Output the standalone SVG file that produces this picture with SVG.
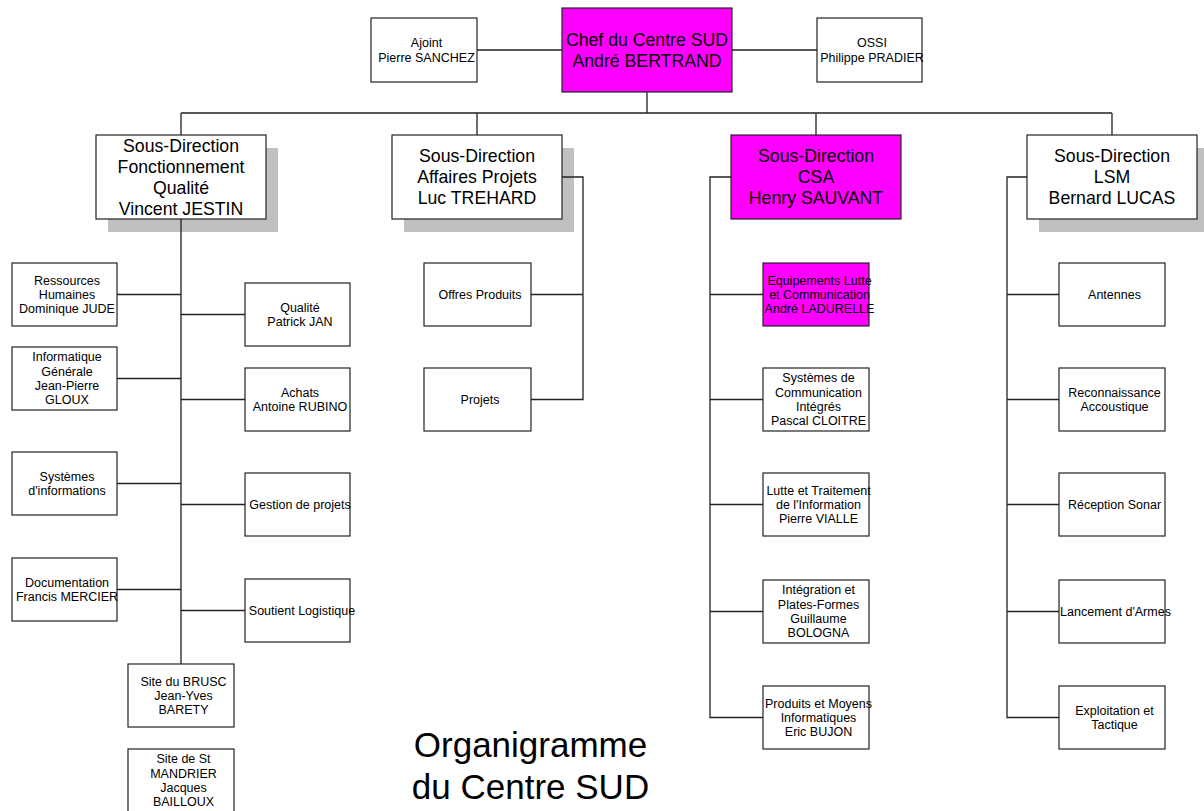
<svg xmlns="http://www.w3.org/2000/svg" width="1204" height="811" viewBox="0 0 1204 811">
<style>
.box{fill:#fff;stroke:#222;stroke-width:1.2}
.pink{fill:#ff00ff}
.shadow{fill:#c0c0c0;stroke:none}
.conn{fill:none;stroke:#222;stroke-width:1.3}
text{font-family:"Liberation Sans",Arial,sans-serif;fill:#000;text-anchor:middle}
.big{font-size:17.7px}
.sm{font-size:12.5px}
.title{font-size:35px}
</style>
<rect width="1204" height="811" fill="#fff"/>

<g id="chef"><rect class="box pink" x="562" y="8" width="170" height="84"/>
<text class="big" x="647" y="45.8"><tspan x="647">Chef du Centre SUD</tspan><tspan x="647" dy="21">André BERTRAND</tspan></text></g>
<g id="ajoint"><rect class="box" x="371" y="18" width="106" height="64"/>
<text class="sm" y="47.25"><tspan x="426.5">Ajoint</tspan><tspan x="426.5" dy="14.3">Pierre SANCHEZ</tspan></text></g>
<g id="ossi"><rect class="box" x="817" y="18" width="105" height="64"/>
<text class="sm" y="47.25"><tspan x="872">OSSI</tspan><tspan x="872" dy="14.3">Philippe PRADIER</tspan></text></g>

<g id="sd-fonct"><rect class="shadow" x="108" y="148" width="170" height="84"/><rect class="box" x="96" y="135" width="170" height="84"/>
<text class="big" y="151.8"><tspan x="181">Sous-Direction</tspan><tspan x="181" dy="21">Fonctionnement</tspan><tspan x="181" dy="21">Qualité</tspan><tspan x="181" dy="21">Vincent JESTIN</tspan></text></g>
<g id="sd-affaires"><rect class="shadow" x="404" y="148" width="170" height="84"/><rect class="box" x="392" y="135" width="170" height="84"/>
<text class="big" y="162.3"><tspan x="477">Sous-Direction</tspan><tspan x="477" dy="21">Affaires Projets</tspan><tspan x="477" dy="21">Luc TREHARD</tspan></text></g>
<g id="sd-csa"><rect class="box pink" x="731" y="135" width="170" height="84"/>
<text class="big" y="162.3"><tspan x="816">Sous-Direction</tspan><tspan x="816" dy="21">CSA</tspan><tspan x="816" dy="21">Henry SAUVANT</tspan></text></g>
<g id="sd-lsm"><rect class="shadow" x="1039" y="148" width="170" height="84"/><rect class="box" x="1027" y="135" width="170" height="84"/>
<text class="big" y="162.3"><tspan x="1112">Sous-Direction</tspan><tspan x="1112" dy="21">LSM</tspan><tspan x="1112" dy="21">Bernard LUCAS</tspan></text></g>

<g id="rh"><rect class="box" x="12" y="263" width="105" height="63"/>
<text class="sm" y="284.6"><tspan x="67">Ressources</tspan><tspan x="67" dy="14.3">Humaines</tspan><tspan x="67" dy="14.3">Dominique JUDE</tspan></text></g>
<g id="info"><rect class="box" x="12" y="347" width="105" height="63"/>
<text class="sm" y="361.45"><tspan x="67">Informatique</tspan><tspan x="67" dy="14.3">Générale</tspan><tspan x="67" dy="14.3">Jean-Pierre</tspan><tspan x="67" dy="14.3">GLOUX</tspan></text></g>
<g id="si"><rect class="box" x="12" y="452" width="105" height="63"/>
<text class="sm" y="480.75"><tspan x="67">Systèmes</tspan><tspan x="67" dy="14.3">d'informations</tspan></text></g>
<g id="doc"><rect class="box" x="12" y="558" width="105" height="63"/>
<text class="sm" y="586.75"><tspan x="67">Documentation</tspan><tspan x="67" dy="14.3">Francis MERCIER</tspan></text></g>
<g id="qualite"><rect class="box" x="245" y="283" width="105" height="63"/>
<text class="sm" y="311.75"><tspan x="300">Qualité</tspan><tspan x="300" dy="14.3">Patrick JAN</tspan></text></g>
<g id="achats"><rect class="box" x="245" y="368" width="105" height="63"/>
<text class="sm" y="396.75"><tspan x="300">Achats</tspan><tspan x="300" dy="14.3">Antoine RUBINO</tspan></text></g>
<g id="gestion"><rect class="box" x="245" y="473" width="105" height="63"/>
<text class="sm" x="300" y="508.9">Gestion de projets</text></g>
<g id="soutien"><rect class="box" x="245" y="579" width="105" height="63"/>
<text class="sm" x="302" y="614.9">Soutient Logistique</text></g>
<g id="brusc"><rect class="box" x="128" y="664" width="106" height="63"/>
<text class="sm" y="685.6"><tspan x="183.5">Site du BRUSC</tspan><tspan x="183.5" dy="14.3">Jean-Yves</tspan><tspan x="183.5" dy="14.3">BARETY</tspan></text></g>
<g id="mandrier"><rect class="box" x="128" y="749" width="106" height="63"/>
<text class="sm" y="763.45"><tspan x="183.5">Site de St</tspan><tspan x="183.5" dy="14.3">MANDRIER</tspan><tspan x="183.5" dy="14.3">Jacques</tspan><tspan x="183.5" dy="14.3">BAILLOUX</tspan></text></g>

<g id="offres"><rect class="box" x="424" y="263" width="107" height="63"/>
<text class="sm" x="480" y="298.9">Offres Produits</text></g>
<g id="projets"><rect class="box" x="424" y="368" width="107" height="63"/>
<text class="sm" x="480" y="403.9">Projets</text></g>

<g id="equip"><rect class="box pink" x="763" y="263" width="106" height="63"/>
<text class="sm" y="284.6"><tspan x="819.5">Equipements Lutte</tspan><tspan x="819.5" dy="14.3">et Communication</tspan><tspan x="819.5" dy="14.3">André LADURELLE</tspan></text></g>
<g id="sci"><rect class="box" x="763" y="368" width="106" height="63"/>
<text class="sm" y="382.45"><tspan x="818.5">Systèmes de</tspan><tspan x="818.5" dy="14.3">Communication</tspan><tspan x="818.5" dy="14.3">Intégrés</tspan><tspan x="818.5" dy="14.3">Pascal CLOITRE</tspan></text></g>
<g id="lutte"><rect class="box" x="763" y="473" width="106" height="63"/>
<text class="sm" y="494.6"><tspan x="818.5">Lutte et Traitement</tspan><tspan x="818.5" dy="14.3">de l'Information</tspan><tspan x="818.5" dy="14.3">Pierre VIALLE</tspan></text></g>
<g id="integ"><rect class="box" x="763" y="580" width="106" height="63"/>
<text class="sm" y="594.45"><tspan x="818.5">Intégration et</tspan><tspan x="818.5" dy="14.3">Plates-Formes</tspan><tspan x="818.5" dy="14.3">Guillaume</tspan><tspan x="818.5" dy="14.3">BOLOGNA</tspan></text></g>
<g id="produits"><rect class="box" x="763" y="686" width="106" height="63"/>
<text class="sm" y="707.6"><tspan x="818.5">Produits et Moyens</tspan><tspan x="818.5" dy="14.3">Informatiques</tspan><tspan x="818.5" dy="14.3">Eric BUJON</tspan></text></g>

<g id="antennes"><rect class="box" x="1059" y="263" width="106" height="63"/>
<text class="sm" x="1114.5" y="298.9">Antennes</text></g>
<g id="reco"><rect class="box" x="1059" y="368" width="106" height="63"/>
<text class="sm" y="396.75"><tspan x="1114.5">Reconnaissance</tspan><tspan x="1114.5" dy="14.3">Accoustique</tspan></text></g>
<g id="sonar"><rect class="box" x="1059" y="473" width="106" height="63"/>
<text class="sm" x="1114.5" y="508.9">Réception Sonar</text></g>
<g id="lancement"><rect class="box" x="1059" y="580" width="106" height="63"/>
<text class="sm" x="1115.5" y="615.9">Lancement d'Armes</text></g>
<g id="exploit"><rect class="box" x="1059" y="686" width="106" height="63"/>
<text class="sm" y="714.75"><tspan x="1114.5">Exploitation et</tspan><tspan x="1114.5" dy="14.3">Tactique</tspan></text></g>

<g id="connectors" class="conn">
<path d="M477,50H562M732,50H817M647,92V113M181,113H1112M181,113V135M477,113V135M816,113V135M1112,113V135"/>
<path d="M181,219V664M117,294.5H181M117,378.5H181M117,483.5H181M117,589.5H181M181,314.5H245M181,399.5H245M181,504.5H245M181,610.5H245"/>
<path d="M562,177H583V399.5H531M583,294.5H531"/>
<path d="M731,177H710V717.5H763M710,294.5H763M710,399.5H763M710,504.5H763M710,611.5H763"/>
<path d="M1027,177H1007V717.5H1059M1007,294.5H1059M1007,399.5H1059M1007,504.5H1059M1007,611.5H1059"/>
</g>

<g id="title"><text class="title" x="530.5" y="757">Organigramme</text><text class="title" x="530.5" y="799">du Centre SUD</text></g>
</svg>
